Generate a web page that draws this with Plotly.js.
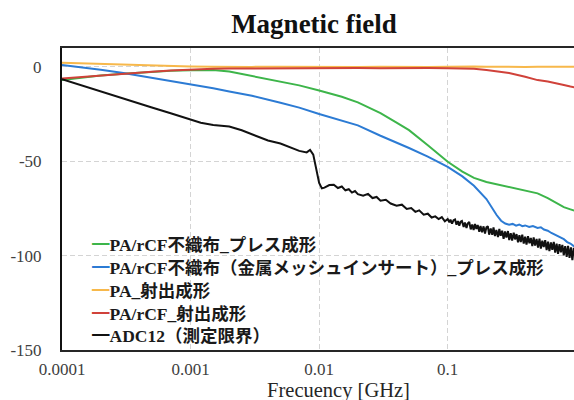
<!DOCTYPE html>
<html>
<head>
<meta charset="utf-8">
<script src="https://cdn.plot.ly/plotly-3.0.1.min.js"></script>
<style>
html,body{margin:0;padding:0;background:#fff;overflow:hidden;}
#wrap{width:574px;height:400px;overflow:hidden;position:relative;}
#chart{width:628px;height:412px;}
</style>
</head>
<body>
<div id="wrap"><div id="chart"></div></div>
<script>
// ---- data (frequency in GHz, field in dB) ----
const seriesNames = [
  'PA/rCF不織布_プレス成形',
  'PA/rCF不織布（金属メッシュインサート）_プレス成形',
  'PA_射出成形',
  'PA/rCF_射出成形',
  'ADC12（測定限界）'
];
const seriesColors = ['#3DB54A', '#2C7BD4', '#F7B84B', '#D0423A', '#111111'];

const freq = [0.0001, 0.00015, 0.0002, 0.0003, 0.0005, 0.0007, 0.001, 0.0015, 0.002, 0.003, 0.005, 0.007,
  0.01, 0.015, 0.02, 0.03, 0.04, 0.05, 0.07, 0.1, 0.13, 0.16, 0.2, 0.25, 0.3, 0.4, 0.5, 0.6, 0.7, 0.8, 0.9, 1.0];

const greenVals = [-7.0, -5.5, -4.6, -3.6, -2.6, -2.1, -1.8, -1.6, -2.5, -4.8, -7.5, -9.8,
  -12.5, -15.8, -18.8, -24.5, -29.5, -33.5, -41.5, -50.3, -55.5, -58.8, -61.0, -62.5, -63.8, -65.5, -67.0, -69.5, -72.0, -74.3, -75.5, -76.5];

const yellowVals = [2.2, 1.8, 1.5, 1.1, 0.7, 0.4, 0.2, 0.1, 0.0, 0.0, 0.1, 0.0,
  0.0, 0.1, 0.0, 0.1, 0.0, 0.1, 0.0, 0.1, 0.3, 0.2, 0.1, 0.0, 0.1, 0.0, 0.1, 0.0, 0.0, 0.1, 0.0, 0.0];

const redVals = [-6.2, -5.2, -4.5, -3.6, -2.6, -1.9, -1.3, -1.0, -0.9, -0.8, -0.7, -0.8,
  -0.7, -0.7, -0.6, -0.7, -0.6, -0.7, -0.6, -0.7, -0.8, -1.0, -1.6, -2.4, -3.2, -5.2, -7.0, -7.8, -8.6, -9.6, -10.4, -11.0];

const blueFreq = [0.0001, 0.00015, 0.0002, 0.0003, 0.0005, 0.0007, 0.001, 0.0015, 0.002, 0.003, 0.005, 0.007,
  0.01, 0.015, 0.02, 0.03, 0.04, 0.05, 0.07, 0.1, 0.13, 0.16, 0.2, 0.22, 0.24, 0.26, 0.28, 0.30, 0.32, 0.34,
  0.36, 0.38, 0.40, 0.43, 0.46, 0.50, 0.53, 0.56, 0.60, 0.64, 0.68, 0.72, 0.76, 0.80, 0.85, 0.90, 0.95, 1.00];
const blueVals = [1.0, -0.3, -1.5, -3.2, -5.8, -7.4, -9.0, -11.3, -13.0, -15.3, -19.0, -21.6,
  -25.0, -28.5, -31.0, -36.5, -40.0, -43.0, -47.5, -53.0, -58.0, -63.0, -70.0, -74.5, -78.5, -81.5, -83.0, -83.6, -83.2, -84.1,
  -83.5, -84.4, -84.0, -84.8, -84.3, -85.3, -85.0, -86.2, -86.8, -88.0, -88.9, -89.4, -90.6, -91.3, -92.8, -93.6, -94.8, -95.5];

const adcFreq = [0.0001, 0.00015, 0.0002, 0.0003, 0.0005, 0.0007, 0.001, 0.0012, 0.0015, 0.0017, 0.002, 0.0025,
  0.003, 0.004, 0.005, 0.006, 0.007, 0.008, 0.0085, 0.009, 0.0095, 0.01, 0.0105, 0.011, 0.012, 0.013, 0.014, 0.015,
  0.016, 0.017, 0.018, 0.019, 0.02, 0.022, 0.024, 0.026, 0.028, 0.03, 0.033, 0.036, 0.04, 0.044, 0.048, 0.052,
  0.056, 0.06, 0.065, 0.07, 0.075, 0.08, 0.085, 0.09, 0.095,
  0.100, 0.103, 0.105, 0.108, 0.111, 0.114, 0.117, 0.120, 0.123, 0.126, 0.129, 0.133, 0.136, 0.140, 0.143, 0.147,
  0.151, 0.155, 0.159, 0.163, 0.167, 0.171, 0.176, 0.180, 0.185, 0.190, 0.195, 0.200, 0.205, 0.210, 0.216, 0.222,
  0.227, 0.233, 0.239, 0.246, 0.252, 0.258, 0.265, 0.272, 0.279, 0.286, 0.294, 0.301, 0.309, 0.317, 0.326, 0.334,
  0.343, 0.352, 0.361, 0.370, 0.380, 0.390, 0.400, 0.410, 0.421, 0.432, 0.443, 0.455, 0.466, 0.478, 0.491, 0.504,
  0.517, 0.530, 0.544, 0.558, 0.573, 0.588, 0.603, 0.618, 0.635, 0.651, 0.668, 0.685, 0.703, 0.721, 0.740, 0.759,
  0.779, 0.799, 0.820, 0.842, 0.863, 0.886, 0.909, 0.932, 0.957, 0.982, 1.000];
const adcVals = [-6.5, -10.3, -13.2, -17.1, -21.5, -24.6, -27.8, -29.6, -30.8, -31.0, -31.6, -33.6,
  -35.8, -39.0, -40.6, -42.5, -44.5, -45.3, -44.0, -46.5, -54.0, -61.5, -64.4, -64.0, -62.6, -62.4, -64.2, -63.4,
  -65.4, -64.8, -66.6, -65.8, -67.4, -68.2, -67.3, -69.5, -68.9, -70.9, -70.4, -72.4, -73.6, -73.0, -75.3, -74.8,
  -76.8, -76.0, -78.3, -77.8, -79.8, -79.2, -80.6, -79.6, -81.8,
  -80.6, -82.4, -80.9, -83.0, -81.2, -80.8, -83.6, -81.7, -84.1, -82.0, -81.6, -84.8, -82.5, -85.3, -83.0, -82.2,
  -86.1, -83.5, -86.4, -83.2, -85.9, -83.8, -87.4, -84.3, -87.6, -84.5, -88.3, -85.0, -84.4, -88.9, -85.6, -89.0,
  -85.1, -89.6, -86.4, -90.2, -85.9, -89.5, -86.8, -91.1, -87.2, -90.4, -87.0, -91.8, -88.1, -92.0, -87.9, -91.4,
  -88.6, -93.0, -89.2, -92.8, -88.9, -93.6, -90.0, -94.1, -89.7, -93.5, -90.6, -95.0, -90.4, -94.7, -91.2, -95.8,
  -91.0, -96.3, -92.1, -95.4, -91.8, -97.1, -92.6, -97.6, -93.0, -96.9, -92.7, -98.4, -93.6, -99.0, -93.9, -98.2,
  -94.3, -99.8, -95.0, -100.6, -94.8, -101.2, -95.6, -102.4, -95.9, -101.0, -97.2];

const xTickVals = [0.0001, 0.001, 0.01, 0.1];
const xTickText = ['0.0001', '0.001', '0.01', '0.1'];
const yTickVals = [0, -50, -100, -150];
const yTickText = ['0', '-50', '-100', '-150'];

// ---- traces ----
const xs = [freq, blueFreq, freq, freq, adcFreq];
const ys = [greenVals, blueVals, yellowVals, redVals, adcVals];
const traces = seriesNames.map((n, i) => ({
  type: 'scatter', mode: 'lines', name: n,
  x: xs[i], y: ys[i],
  line: {color: seriesColors[i], width: 2},
  hoverinfo: 'skip'
}));

const serif = 'Liberation Serif, Times New Roman, serif';
const legendFont = 'Liberation Serif, Noto Sans CJK JP, serif';
const rowsY = [0.349, 0.273, 0.197, 0.118, 0.045];
const annotations = seriesNames.map((n, i) => ({
  xref: 'paper', yref: 'paper', x: 0.051, y: rowsY[i],
  xanchor: 'left', yanchor: 'middle', showarrow: false, align: 'left',
  text: '<span style="color:' + seriesColors[i] + '">━</span>' + n,
  font: {family: legendFont, size: 17.5, color: '#1a1a1a', weight: 'bold'}
}));

const layout = {
  width: 628, height: 412,
  margin: {l: 62, r: 13, t: 48, b: 61.5, pad: 0},
  paper_bgcolor: '#ffffff', plot_bgcolor: '#ffffff',
  showlegend: false,
  title: {
    text: 'Magnetic field',
    font: {family: serif, size: 27, color: '#111111', weight: 'bold'},
    x: 0.5, xref: 'container', xanchor: 'center',
    y: 1 - 24 / 412, yref: 'container', yanchor: 'middle'
  },
  xaxis: {
    type: 'log', range: [-4, Math.log10(2)],
    tickmode: 'array', tickvals: xTickVals, ticktext: xTickText,
    showgrid: true, gridcolor: '#d4d4d4', gridwidth: 1, griddash: '5px,3px',
    showline: true, linecolor: '#262626', linewidth: 2, mirror: true,
    ticks: '', zeroline: false, automargin: false, fixedrange: true,
    tickfont: {family: serif, size: 17, color: '#404040'},
    ticklabelstandoff: 3,
    title: {text: 'Frecuency [GHz]', font: {family: serif, size: 20.5, color: '#262626'}, standoff: 2}
  },
  yaxis: {
    range: [-150, 10],
    tickmode: 'array', tickvals: yTickVals, ticktext: yTickText,
    showgrid: true, gridcolor: '#d4d4d4', gridwidth: 1, griddash: '5px,3px',
    showline: true, linecolor: '#111111', linewidth: 2, mirror: false,
    ticks: '', zeroline: false, automargin: false, fixedrange: true,
    tickfont: {family: serif, size: 17, color: '#404040'},
    ticklabelstandoff: 15
  },
  annotations: annotations
};

Plotly.newPlot('chart', traces, layout, {staticPlot: true, displayModeBar: false});
</script>
</body>
</html>
